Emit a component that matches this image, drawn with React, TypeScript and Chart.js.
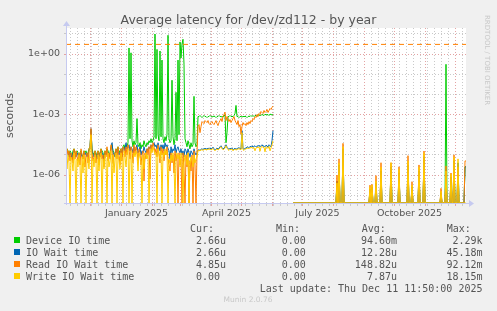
import React, { useEffect, useRef } from "react";
import { Chart, registerables } from "chart.js";

Chart.register(...registerables);

// ---------- scale / layout constants ----------
const W = 497;
const H = 311;
const Y_MIN = 4.1e-8;
const Y_MAX = 19.5;
const X_MAX_DAY = 400; // day 0 = 2024-11-06 11:50, day 400 = 2025-12-11 11:50

// Z marks a zero reading (log10 of 0); null marks "no data"
const Z = -Infinity;

// ---------- axis ticks ----------
const monthStartDays = [24.5, 55.5, 86.5, 114.5, 145.5, 175.5, 206.5, 236.5, 267.5, 298.5, 328.5, 359.5, 389.5];
const firstMondayDay = 4.5;
const monthLabelDays = [70.5, 160.5, 251.5, 343.5];
const monthLabels = ["January 2025", "April 2025", "July 2025", "October 2025"];
const yTickExponents = [-7, -6, -5, -4, -3, -2, -1, 0, 1];
const yLabelExponents = [0, -3, -6];
const yLabels = ["1e+00", "1e-03", "1e-06"];
const thresholdLevel = 3;

// ---------- series (log10 of seconds), daily from day 0 to day 207 ----------
const deviceIoDaily = [
  -4.9, -4.7, -4.8, -5.0, -4.8, -4.9, -5.1, -4.8, -4.7, -4.9,
  -5.0, -4.8, -4.9, -5.2, -4.9, -4.8, -5.0, -5.1, -4.8, -4.9,
  -4.8, -5.0, -4.9, -4.7, -4.6, -3.8, -4.7, -4.9, -5.0, -4.8,
  -4.9, -5.1, -4.8, -4.9, -5.0, -4.7, -4.8, -4.9, -5.2, -4.8,
  -4.9, -4.7, -4.8, -5.0, -4.9, -4.6, -4.5, -4.8, -4.9, -5.0,
  -4.7, -4.8, -4.6, -4.9, -4.8, -4.7, -5.0, -4.6, -4.5, -4.7,
  -4.5, -4.6, -4.4, 0.3, -4.2, 0.06, -4.3, -4.6, -4.3, -4.5,
  -4.4, -3.2, -4.5, -4.6, -4.4, -4.7, -4.5, -4.6, -4.3, -4.5,
  -4.6, -4.4, -4.5, -4.3, -4.4, -4.2, -4.4, -4.3, -4.1, 0.99,
  -4.2, 0.23, -4.0, -4.3, 0.15, -4.1, -0.3, -4.2, -4.4, -4.1,
  -4.3, -4.0, 0.93, -4.2, -4.4, -4.3, -1.3, -4.1, -4.5, -4.2,
  -1.9, -4.3, -0.3, -4.0, 0.6, -0.2, 0.5, 0.73, -0.5, -4.2,
  -4.4, -4.6, -4.3, -4.5, -4.7, -4.4, -4.6, -4.5, -2.1, -4.4,
  -4.6, -4.5, -3.1, -3.1, -3.05, -3.1, -3.15, -3.1, -3.05, -3.1,
  -3.1, -3.15, -3.1, -3.1, -3.05, -3.1, -3.12, -3.1, -3.08, -3.1,
  -3.15, -3.1, -3.1, -3.05, -3.1, -3.1, -3.12, -3.1, -3.08, -3.0,
  -4.4, -3.9, -3.1, -3.1, -3.05, -3.1, -3.1, -3.1, -3.05, -2.95,
  -2.55, -3.1, -3.1, -3.15, -3.1, -3.1, -3.12, -3.1, -3.1, -3.1,
  -3.1, -3.15, -3.1, -3.08, -3.1, -3.05, -3.1, -3.05, -3.1, -3.05,
  -3.05, -3.1, -3.0, -3.05, -3.02, -3.05, -3.0, -3.02, -3.05, -3.0,
  -3.0, -3.02, -3.0, -3.05, -2.98, -3.0, -3.02, -3.0,
];

const ioWaitDaily = [
  -5.0, -4.8, -4.9, -5.1, -4.9, -5.0, -5.2, -4.9, -4.8, -5.0,
  -5.1, -4.9, -5.0, -5.3, -5.0, -4.9, -5.1, -5.2, -4.9, -5.0,
  -4.9, -5.1, -5.0, -4.8, -4.7, -3.7, -4.8, -5.0, -5.1, -4.9,
  -5.0, -5.2, -4.9, -5.0, -5.1, -4.8, -4.9, -5.0, -5.3, -4.9,
  -5.0, -4.8, -4.9, -5.1, -5.0, -4.7, -4.4, -4.9, -5.0, -5.1,
  -4.8, -4.9, -4.7, -5.0, -4.9, -4.8, -5.1, -4.7, -4.6, -4.8,
  -4.4, -4.7, -4.6, -4.5, -4.8, -4.6, -4.7, -4.9, -4.6, -4.8,
  -4.7, -4.5, -4.9, -4.8, -4.6, -5.0, -4.8, -4.9, -4.6, -4.8,
  -4.9, -4.7, -4.8, -4.6, -4.7, -4.5, -4.6, -4.5, -4.4, -4.6,
  -4.5, -4.7, -4.4, -4.6, -4.8, -4.5, -4.7, -4.5, -4.8, -4.4,
  -4.6, -4.5, -4.7, -4.8, -5.2, -4.6, -4.9, -4.7, -4.8, -4.5,
  -4.9, -4.7, -4.6, -4.8, -4.9, -4.7, -5.0, -4.8, -5.1, -4.7,
  -4.8, -5.0, -4.7, -4.9, -5.1, -4.8, -4.9, -5.0, -4.7, -4.9,
  -5.0, -4.9, -4.76, -4.75, -4.78, -4.72, -4.7, -4.74, -4.7, -4.68,
  -4.7, -4.72, -4.66, -4.7, -4.65, -4.72, -4.68, -4.62, -4.7, -4.75,
  -4.7, -4.66, -4.72, -4.68, -4.6, -4.55, -4.65, -4.7, -4.68, -4.6,
  -4.5, -4.62, -4.7, -4.72, -4.68, -4.7, -4.65, -4.75, -4.7, -4.68,
  -4.72, -4.7, -4.66, -4.65, -4.68, -4.7, -3.8, -4.7, -4.72, -4.68,
  -4.66, -4.62, -4.6, -4.65, -4.58, -4.6, -4.55, -4.62, -4.58, -4.55,
  -4.6, -4.55, -4.58, -4.52, -4.6, -4.55, -4.5, -4.58, -4.55, -4.6,
  -4.52, -4.55, -4.62, -4.5, -4.55, -4.6, -4.3, -3.8,
];

const readWaitDaily = [
  -5.1, -4.7, -5.0, -4.8, -5.3, -4.9, -5.0, -5.4, -4.7, -5.2,
  -4.8, -5.1, -5.3, -4.9, -5.5, -4.7, -5.0, -5.2, -4.8, -5.6,
  -5.0, -4.9, -5.4, -4.7, -4.6, -3.7, -4.9, -5.3, -5.1, -4.8,
  -5.4, -5.0, -4.8, -5.5, -4.9, -4.7, -5.2, -5.0, -5.6, -4.8,
  -5.1, -4.6, -5.3, -4.9, -5.2, -4.5, -4.8, -5.4, -5.0, -4.9,
  -4.7, -5.2, -4.6, -5.0, -5.5, -4.7, -5.3, -4.6, -4.7, -5.1,
  -4.6, -5.0, -4.5, -4.7, -5.2, -4.6, -4.8, -5.4, -4.5, -5.0,
  -4.6, -4.8, -5.3, -4.7, -4.9, -5.5, -5.0, -4.8, -6.3, -4.9,
  -5.2, -4.7, -5.0, -4.6, -6.2, -4.5, -4.8, -4.4, -4.6, -4.9,
  -4.7, -5.1, -4.5, -4.9, -5.4, -4.6, -5.0, -4.7, -5.3, -4.8,
  -5.0, -4.6, -5.2, -5.5, -5.8, -4.9, -5.4, -5.0, -5.9, -4.8,
  -5.3, -5.0, Z, -4.9, -5.5, -5.2, Z, -4.9, -5.7, Z,
  -5.0, -5.6, -4.9, Z, -5.3, -5.8, -5.0, Z, -4.8, -5.5,
  Z, -4.9, -3.57, -3.5, -3.9, -3.6, -3.35, -3.4, -3.45, -3.3,
  -3.35, -3.4, -3.3, -3.45, -3.5, -3.4, -3.35, -3.45, -3.5, -3.4,
  -3.3, -3.45, -3.55, -3.4, -3.3, -3.2, -3.35, -3.1, -3.0, -2.88,
  -3.3, -3.1, -3.2, -3.35, -3.25, -3.4, -3.3, -3.2, -3.1, -3.3,
  -3.4, -3.5, -3.3, -3.6, -3.5, -3.97, -3.6, -3.4, -3.5, -3.45,
  -3.55, -3.4, -3.5, -3.35, -3.45, -3.3, -3.35, -3.2, -3.25, -3.1,
  -3.15, -3.0, -3.1, -2.95, -3.0, -2.85, -2.9, -2.95, -2.8, -2.9,
  -2.85, -2.75, -2.9, -2.8, -2.7, -2.75, -2.65, -2.58,
];

const writeWaitDaily = [
  -5.2, -5.7, -5.0, -5.4, Z, -5.1, -5.3, -5.8, -4.9, -5.3,
  Z, -5.2, -5.6, -5.0, -5.4, Z, -5.1, -5.9, -5.0, -5.5,
  Z, -5.1, -5.3, -5.7, -4.8, -4.0, Z, -5.2, -5.6, -5.0,
  -5.3, Z, -5.0, -5.8, -5.1, -4.9, Z, -5.2, -5.7, -5.0,
  -5.2, Z, -4.9, -5.6, -5.3, -4.8, Z, -5.0, -5.9, -5.2,
  -4.9, Z, -5.0, -5.3, -5.7, -4.9, -5.2, Z, -4.8, -5.1,
  -5.6, -4.9, -4.7, Z, -5.0, -4.8, Z, -5.2, -4.9, -5.1,
  -4.8, -5.0, -5.8, -4.9, -5.1, -5.3, Z, -5.0, -5.7, -5.1,
  -4.9, -5.2, -5.0, Z, -5.8, -4.7, -4.9, -4.6, -4.8, -5.0,
  -4.9, Z, -4.7, -5.0, -5.2, -4.8, Z, -4.9, -5.1, -4.7,
  -5.0, -4.8, Z, -5.2, -5.4, -5.0, -5.3, -4.9, -5.5, Z,
  -5.1, -4.9, -5.2, -5.0, -5.6, -4.9, -5.3, Z, -5.4, -5.0,
  -5.2, -5.5, -4.9, Z, -5.4, -5.1, -5.3, -5.6, -5.0, -5.4,
  -5.2, -5.1, -4.8, -4.78, -4.8, -4.76, -4.74, -4.78, -4.74, -4.72,
  -4.75, -4.76, -4.7, -4.74, -4.7, -4.76, -4.72, -4.68, -4.75, -4.8,
  -4.74, -4.7, -4.76, -4.72, -4.65, -4.6, -4.7, -4.75, -4.72, -4.66,
  -4.55, -4.66, -4.74, -4.78, -4.72, -4.75, -4.7, -4.8, -4.74, -4.72,
  -4.76, -4.74, -4.7, -4.7, -4.72, -4.75, -3.9, -4.74, -4.78, -4.72,
  -4.7, -4.68, -4.66, -4.7, -4.64, -4.66, -4.62, -4.68, -4.64, -4.8,
  -4.66, -4.62, -4.64, -4.6, -4.82, -4.62, -4.58, -4.64, -4.62, -4.85,
  -4.6, -4.62, -4.68, -4.58, -4.8, -4.66, -4.5, -4.3,
];

const gapDay = 208;

// ---------- later, sparse readings ----------
const lateDays = [
  227, 270, 271, 272, 273, 274, 276, 277, 278, 303, 304, 305, 306, 307,
  309, 310, 311, 314, 315, 316, 324, 325, 326, 332, 333, 334, 341, 342, 343,
  345, 346, 347, 352, 353, 354, 357, 358, 359, 374, 375, 376, 379, 380, 381,
  384, 385, 386, 387, 388, 389, 391, 392, 393, 398, 399, 400,
];
const deviceIoLate = [
  Z, Z, -6.3, Z, -5.5, Z, Z, -4.7, Z, Z, -6.7, Z, -6.6, Z,
  Z, -6.4, Z, Z, -5.8, Z, Z, -5.6, Z, Z, -5.9, Z, Z, -5.5, Z,
  Z, -6.6, Z, Z, -5.8, Z, Z, -5.1, Z, Z, -6.9, Z, Z, -0.51, Z,
  Z, -6.1, Z, Z, -5.3, Z, Z, -5.4, Z, Z, -5.6, -5.58,
];
const ioWaitLate = [
  Z, Z, -6.3, Z, -5.5, Z, Z, -4.7, Z, Z, -6.7, Z, -6.6, Z,
  Z, -6.4, Z, Z, -5.8, Z, Z, -5.6, Z, Z, -5.9, Z, Z, -5.5, Z,
  Z, -6.6, Z, Z, -5.8, Z, Z, -5.1, Z, Z, -6.9, Z, Z, -5.9, Z,
  Z, -6.1, Z, Z, -5.3, Z, Z, -5.4, Z, Z, -5.6, -5.58,
];
const readWaitLate = [
  Z, Z, -6.0, Z, -5.2, Z, Z, -4.43, Z, Z, -6.5, Z, -6.46, Z,
  Z, -6.03, Z, Z, -5.39, Z, Z, -5.39, Z, Z, -5.59, Z, Z, -5.04, Z,
  Z, -6.33, Z, Z, -5.5, Z, Z, -4.81, Z, Z, -6.66, Z, Z, -5.55, Z,
  Z, -5.9, Z, Z, -5.0, Z, Z, -5.6, Z, Z, -5.3, -5.31,
];
const writeWaitLate = [
  Z, Z, -6.4, Z, -5.4, Z, Z, -4.6, Z, Z, -6.6, Z, -6.5, Z,
  Z, -6.3, Z, Z, -5.6, Z, Z, -5.39, Z, Z, -5.7, Z, Z, -5.3, Z,
  Z, -6.5, Z, Z, -5.6, Z, Z, -4.9, Z, Z, -6.8, Z, Z, -5.8, Z,
  Z, -5.95, Z, Z, -5.1, Z, Z, -5.2, Z, Z, Z, Z,
];

// ---------- legend ----------
const seriesNames = ["Device IO time", "IO Wait time", "Read IO Wait time", "Write IO Wait time"];
const seriesColors = ["#00CC00", "#0066B3", "#FF8000", "#FFCC00"];
const curValues = ["2.66u", "2.66u", "4.85u", "0.00"];
const minValues = ["0.00", "0.00", "0.00", "0.00"];
const avgValues = ["94.60m", "12.28u", "148.82u", "7.87u"];
const maxValues = ["2.29k", "45.18m", "92.12m", "18.15m"];
const titleText = "Average latency for /dev/zd112 - by year";
const lastUpdate = "Last update: Thu Dec 11 11:50:00 2025";

// ---------- helpers ----------
const toSeconds = (e: number | null) => (e === null ? null : e === Z ? Y_MIN : Math.pow(10, e));

function buildSeries(daily: number[], late: number[]) {
  const pts: { x: number; y: number | null }[] = daily.map((e, i) => ({ x: i, y: toSeconds(e) }));
  pts.push({ x: gapDay, y: null });
  lateDays.forEach((d, i) => pts.push({ x: d, y: toSeconds(late[i]) }));
  return pts;
}

const GRID_MINOR = "#c9c9c9";
const GRID_MAJOR = "#e3a3a3";
const AXIS_COLOR = "#c6caf0";
const TEXT = "#555";

type XTick = { value: number; kind: "month" | "week" | "label" };
function buildXTicks(): XTick[] {
  const map = new Map<number, XTick>();
  for (let d = firstMondayDay; d <= X_MAX_DAY; d += 7) map.set(d, { value: d, kind: "week" });
  monthStartDays.forEach((d) => map.set(d, { value: d, kind: "month" }));
  monthLabelDays.forEach((d) => map.set(d, { value: d, kind: "label" }));
  return [...map.values()].sort((a, b) => a.value - b.value);
}
const xTicks = buildXTicks();
const xKind = (v: number) => xTicks.find((t) => Math.abs(t.value - v) < 1e-6)?.kind;

const axisPlugin = {
  id: "rrdAxes",
  beforeDraw(chart: any) {
    const { ctx, chartArea: a } = chart;
    ctx.save();
    ctx.fillStyle = "#ffffff";
    ctx.fillRect(a.left, a.top, a.right - a.left, a.bottom - a.top);
    ctx.restore();
  },
  afterDraw(chart: any) {
    const { ctx, chartArea: a } = chart;
    ctx.save();
    ctx.strokeStyle = AXIS_COLOR;
    ctx.fillStyle = AXIS_COLOR;
    ctx.lineWidth = 1;
    const by = Math.round(a.bottom) + 0.5;
    const lx = Math.round(a.left) + 0.5;
    ctx.beginPath();
    ctx.moveTo(a.left - 2, by);
    ctx.lineTo(a.right + 4, by);
    ctx.moveTo(lx, a.bottom + 2);
    ctx.lineTo(lx, a.top - 3);
    ctx.stroke();
    ctx.beginPath();
    ctx.moveTo(a.right + 8, by);
    ctx.lineTo(a.right + 3, by - 3.5);
    ctx.lineTo(a.right + 3, by + 3.5);
    ctx.closePath();
    ctx.fill();
    ctx.beginPath();
    ctx.moveTo(lx, a.top - 7);
    ctx.lineTo(lx - 3.5, a.top - 2);
    ctx.lineTo(lx + 3.5, a.top - 2);
    ctx.closePath();
    ctx.fill();
    ctx.restore();
  },
};

function Txt(props: {
  x: number;
  y: number;
  text: string;
  align?: "left" | "right" | "center";
  size?: number;
  mono?: boolean;
  color?: string;
}) {
  const { x, y, text, align = "left", size = 10, mono = true, color = TEXT } = props;
  const lh = Math.round(size * 1.3);
  const style: React.CSSProperties = {
    position: "absolute",
    top: y - lh / 2,
    lineHeight: lh + "px",
    fontSize: size,
    fontFamily: mono ? '"DejaVu Sans Mono", monospace' : '"DejaVu Sans", sans-serif',
    color,
    whiteSpace: "pre",
  };
  if (align === "left") style.left = x;
  else if (align === "right") style.right = W - x;
  else {
    style.left = x - 250;
    style.width = 500;
    style.textAlign = "center";
  }
  return <div style={style}>{text}</div>;
}

export default function App() {
  const ref = useRef<HTMLCanvasElement>(null);

  useEffect(() => {
    if (!ref.current) return;
    const line = (label: string, color: string, data: any[], order: number) => ({
      label,
      data,
      borderColor: color,
      backgroundColor: color,
      borderWidth: 1,
      pointRadius: 0,
      tension: 0,
      spanGaps: false,
      fill: false,
      order,
    });
    const datasets: any[] = [
      line(seriesNames[0], seriesColors[0], buildSeries(deviceIoDaily, deviceIoLate), 4),
      line(seriesNames[1], seriesColors[1], buildSeries(ioWaitDaily, ioWaitLate), 3),
      line(seriesNames[2], seriesColors[2], buildSeries(readWaitDaily, readWaitLate), 2),
      line(seriesNames[3], seriesColors[3], buildSeries(writeWaitDaily, writeWaitLate), 1),
      {
        label: "threshold",
        data: [
          { x: 0, y: thresholdLevel },
          { x: X_MAX_DAY, y: thresholdLevel },
        ],
        borderColor: "#FF8000",
        borderWidth: 1,
        borderDash: [5, 4],
        pointRadius: 0,
        fill: false,
        order: 0,
      },
    ];

    const chart = new Chart(ref.current, {
      type: "line",
      data: { datasets },
      plugins: [axisPlugin],
      options: {
        animation: false,
        responsive: false,
        devicePixelRatio: 1,
        layout: { padding: { left: 0, right: 31, top: 28, bottom: 0 } },
        plugins: {
          legend: { display: false },
          title: { display: false },
          tooltip: { enabled: false },
        },
        scales: {
          x: {
            type: "linear",
            min: 0,
            max: X_MAX_DAY,
            afterFit: (s: any) => {
              s.height = 108;
            },
            afterBuildTicks: (s: any) => {
              s.ticks = xTicks.map((t) => ({ value: t.value }));
            },
            ticks: {
              autoSkip: false,
              maxRotation: 0,
              minRotation: 0,
              padding: 2,
              color: TEXT,
              font: { family: '"DejaVu Sans", sans-serif', size: 9.5 },
              callback: (v: any) => {
                const i = monthLabelDays.findIndex((d) => Math.abs(d - Number(v)) < 1e-6);
                return i >= 0 ? monthLabels[i] : "";
              },
            },
            grid: {
              lineWidth: 1,
              tickLength: 3,
              color: (ctx: any) => {
                const k = ctx.tick ? xKind(ctx.tick.value) : undefined;
                return k === "month" ? GRID_MAJOR : k === "week" ? GRID_MINOR : "rgba(0,0,0,0)";
              },
              tickColor: (ctx: any) => {
                const k = ctx.tick ? xKind(ctx.tick.value) : undefined;
                return k === "month" ? GRID_MAJOR : k === "week" ? GRID_MINOR : "rgba(0,0,0,0)";
              },
            },
            border: { display: false, dash: [1, 2] },
          } as any,
          y: {
            type: "logarithmic",
            min: Y_MIN,
            max: Y_MAX,
            afterFit: (s: any) => {
              s.width = 66;
            },
            afterBuildTicks: (s: any) => {
              s.ticks = yTickExponents.map((e) => ({ value: Math.pow(10, e) }));
            },
            ticks: {
              autoSkip: false,
              padding: 4,
              color: TEXT,
              font: { family: '"DejaVu Sans", sans-serif', size: 9.5 },
              callback: (v: any) => {
                const e = Math.round(Math.log10(Number(v)));
                const i = yLabelExponents.indexOf(e);
                return i >= 0 ? yLabels[i] : "";
              },
            },
            title: {
              display: true,
              text: "seconds",
              color: TEXT,
              font: { family: '"DejaVu Sans", sans-serif', size: 11 },
              padding: { top: 4, bottom: 0 },
            },
            grid: {
              lineWidth: 1,
              tickLength: 2,
              color: (ctx: any) => {
                if (!ctx.tick) return GRID_MINOR;
                const e = Math.round(Math.log10(ctx.tick.value));
                return yLabelExponents.includes(e) ? GRID_MAJOR : GRID_MINOR;
              },
              tickColor: (ctx: any) => {
                if (!ctx.tick) return GRID_MINOR;
                const e = Math.round(Math.log10(ctx.tick.value));
                return yLabelExponents.includes(e) ? GRID_MAJOR : GRID_MINOR;
              },
            },
            border: { display: false, dash: [1, 2] },
          } as any,
        },
      } as any,
    });
    return () => chart.destroy();
  }, []);

  const rowY = [240, 252, 264, 276];

  return (
    <div
      style={{
        position: "fixed",
        left: 0,
        top: 0,
        width: W,
        height: H,
        background: "#f0f0f0",
        overflow: "hidden",
      }}
    >
      <canvas
        ref={ref}
        width={W}
        height={H}
        style={{ position: "absolute", left: 0, top: 0, width: W, height: H }}
      />
      <Txt x={248.5} y={20} text={titleText} align="center" size={12.5} mono={false} />
      <div
        style={{
          position: "absolute",
          left: 483,
          top: 15,
          writingMode: "vertical-rl",
          fontFamily: '"DejaVu Sans", sans-serif',
          fontSize: 7,
          lineHeight: "8px",
          color: "#c8c8c8",
          whiteSpace: "pre",
        }}
      >
        RRDTOOL / TOBI OETIKER
      </div>

      <Txt x={190} y={228} text="Cur:" />
      <Txt x={276} y={228} text="Min:" />
      <Txt x={361.7} y={228} text="Avg:" />
      <Txt x={446.7} y={228} text="Max:" />

      {seriesNames.map((name, i) => (
        <React.Fragment key={name}>
          <div
            style={{
              position: "absolute",
              left: 14,
              top: rowY[i] - 3,
              width: 6,
              height: 6,
              background: seriesColors[i],
            }}
          />
          <Txt x={26} y={rowY[i]} text={name} />
          <Txt x={196} y={rowY[i]} text={curValues[i]} />
          <Txt x={281.7} y={rowY[i]} text={minValues[i]} />
          <Txt x={397} y={rowY[i]} text={avgValues[i]} align="right" />
          <Txt x={482.5} y={rowY[i]} text={maxValues[i]} align="right" />
        </React.Fragment>
      ))}

      <Txt x={482.5} y={288} text={lastUpdate} align="right" />
      <Txt x={248} y={300} text="Munin 2.0.76" align="center" size={7.5} mono={false} color="#c8c8c8" />
    </div>
  );
}
